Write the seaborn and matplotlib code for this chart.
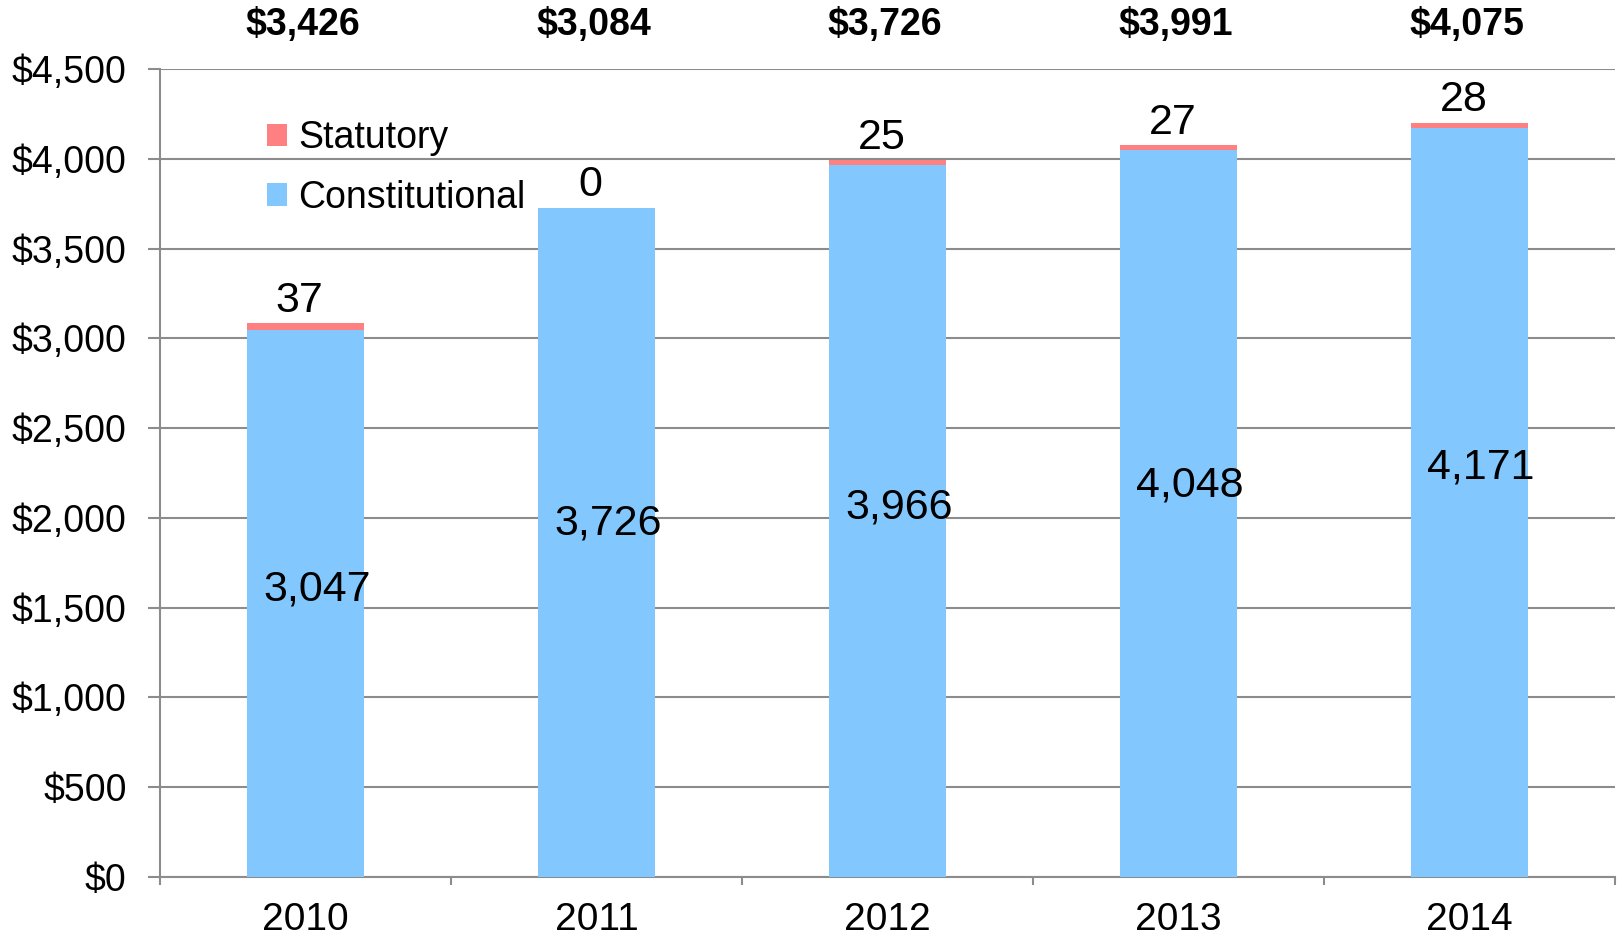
import numpy as np
import pandas as pd
import matplotlib
matplotlib.use("Agg")
import matplotlib.pyplot as plt
import matplotlib.transforms as mtransforms
from matplotlib.patches import Patch
import seaborn as sns

# chart data
years = ["2010", "2011", "2012", "2013", "2014"]
constitutional = [3047, 3726, 3966, 4048, 4171]
statutory = [37, 0, 25, 27, 28]
top_labels = ["$3,426", "$3,084", "$3,726", "$3,991", "$4,075"]
# heights where the inner labels sit
inner_label_y = [1600, 1970, 2060, 2180, 2280]
y_ticks = [0, 500, 1000, 1500, 2000, 2500, 3000, 3500, 4000, 4500]

blue = "#82C8FF"
red = "#FF8080"
grey = "#8C8C8C"

sns.set_theme(style="white")
plt.rcParams["font.family"] = ["Liberation Sans", "DejaVu Sans"]
plt.rcParams["text.color"] = "black"
plt.rcParams["xtick.color"] = "black"
plt.rcParams["ytick.color"] = "black"

df = pd.DataFrame({"year": years, "constitutional": constitutional, "statutory": statutory})
df["total"] = df["constitutional"] + df["statutory"]

fig = plt.figure(figsize=(16.17, 9.38), dpi=100)
ax = fig.add_axes([0.099, 0.065, 0.8998, 0.8614])

# total bar in red, constitutional part drawn over it in blue
sns.barplot(data=df, x="year", y="total", color=red, width=0.4, saturation=1,
            linewidth=0, ax=ax, zorder=3)
sns.barplot(data=df, x="year", y="constitutional", color=blue, width=0.4, saturation=1,
            linewidth=0, ax=ax, zorder=3)

ax.set_ylim(0, 4500)
ax.set_xlim(-0.5, len(years) - 0.5)
ax.set_yticks(y_ticks)
ax.set_yticklabels(["${:,}".format(v) for v in y_ticks])
ax.yaxis.grid(True, color=grey, linewidth=1.5, zorder=0)
ax.set_axisbelow(True)
ax.set_xlabel("")
ax.set_ylabel("")

for s in ["top", "right"]:
    ax.spines[s].set_visible(False)
for s in ["left", "bottom"]:
    ax.spines[s].set_color(grey)
    ax.spines[s].set_linewidth(1.5)

ax.tick_params(axis="y", length=9, width=1.5, color=grey, labelcolor="black",
               labelsize=27, pad=15, left=True)
ax.tick_params(axis="x", which="major", length=0, labelcolor="black", labelsize=28, pad=18)
ax.set_xticks(np.arange(-0.5, len(years)), minor=True)
ax.tick_params(axis="x", which="minor", length=6, width=1.5, color=grey, bottom=True)

# value labels
for i in range(len(years)):
    ax.text(i + 0.04, inner_label_y[i], "{:,}".format(constitutional[i]),
            ha="center", va="center", fontsize=31, color="black", zorder=4)
    ax.annotate("{:,}".format(statutory[i]), (i - 0.02, df["total"][i]),
                xytext=(0, 2), textcoords="offset points",
                ha="center", va="bottom", fontsize=31, color="black")

trans = mtransforms.blended_transform_factory(ax.transData, ax.transAxes)
for i, lab in enumerate(top_labels):
    ax.text(i - 0.01, 1.054, lab, transform=trans, ha="center", va="center",
            fontsize=27, fontweight="bold", color="black")

handles = [Patch(facecolor=red, edgecolor="none", label="Statutory"),
           Patch(facecolor=blue, edgecolor="none", label="Constitutional")]
ax.legend(handles=handles, loc="upper left", bbox_to_anchor=(0.063, 0.955),
          frameon=False, fontsize=27, handlelength=0.55, handleheight=0.55,
          handletextpad=0.3, labelspacing=0.62, borderaxespad=0)

fig.savefig("out.png", dpi=100)
